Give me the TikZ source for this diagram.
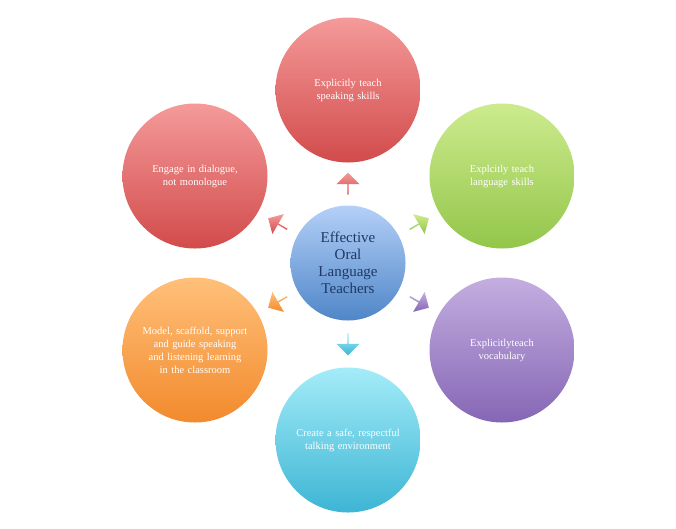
\documentclass[tikz,border=0pt]{standalone}
\usepackage{fontspec}
\setmainfont{Liberation Serif}
\usetikzlibrary{shapes.arrows}
\definecolor{redtop}{HTML}{F59A9A}\definecolor{redbot}{HTML}{D24B4B}
\definecolor{grntop}{HTML}{CDEB8E}\definecolor{grnbot}{HTML}{93C64A}
\definecolor{purtop}{HTML}{C4AEE0}\definecolor{purbot}{HTML}{8566B5}
\definecolor{cyntop}{HTML}{A4ECF8}\definecolor{cynbot}{HTML}{3DB5D4}
\definecolor{orgtop}{HTML}{FFC07A}\definecolor{orgbot}{HTML}{F28A2C}
\definecolor{blutop}{HTML}{B4D0F8}\definecolor{blubot}{HTML}{4F86C8}
\definecolor{navy}{HTML}{1F3864}
\begin{document}
\begin{tikzpicture}[x=1pt,y=-1pt]
    % Styles
    \tikzstyle{petal} = [circle, minimum size=145pt, inner sep=0pt, text width=105pt, align=center,
        text=white, font=\fontsize{10.5}{13}\selectfont, shading=axis, shading angle=0]
    \tikzstyle{hub} = [circle, minimum size=115pt, inner sep=0pt, text width=85pt, align=center,
        text=navy, font=\fontsize{15}{17}\selectfont, top color=blutop, bottom color=blubot]
    \tikzstyle{pointer} = [single arrow, minimum height=22pt, minimum width=23pt,
        single arrow head extend=3pt, inner sep=0pt, shading=axis, shading angle=0]

    \useasboundingbox (0,0) rectangle (676,528);

    % Centre
    \node[hub] (hub) at (348,263) {Effective Oral Language Teachers};

    % Petals
    \node[petal, top color=redtop, bottom color=redbot] (speak) at (348,90) {Explicitly teach speaking skills};
    \node[petal, top color=grntop, bottom color=grnbot] (lang) at (502,176) {Explcitly teach language skills};
    \node[petal, top color=purtop, bottom color=purbot] (vocab) at (502,350) {Explicitlyteach vocabulary};
    \node[petal, top color=cyntop, bottom color=cynbot] (safe) at (348,440) {Create a safe, respectful talking environment};
    \node[petal, top color=orgtop, bottom color=orgbot] (model) at (195,350) {Model, scaffold, support and guide speaking and listening learning in the classroom};
    \node[petal, top color=redtop, bottom color=redbot] (dialog) at (195,176) {Engage in dialogue, not monologue};

    % Pointers
    \node[pointer, rotate=90, top color=redtop, bottom color=redbot] (p1) at (348,184) {};
    \node[pointer, rotate=30, top color=grntop, bottom color=grnbot] (p2) at (419,224) {};
    \node[pointer, rotate=-30, top color=purtop, bottom color=purbot] (p3) at (419,302) {};
    \node[pointer, rotate=-90, top color=cyntop, bottom color=cynbot] (p4) at (348,344) {};
    \node[pointer, rotate=210, top color=orgtop, bottom color=orgbot] (p5) at (278,302) {};
    \node[pointer, rotate=150, top color=redtop, bottom color=redbot] (p6) at (278,224) {};
\end{tikzpicture}
\end{document}
